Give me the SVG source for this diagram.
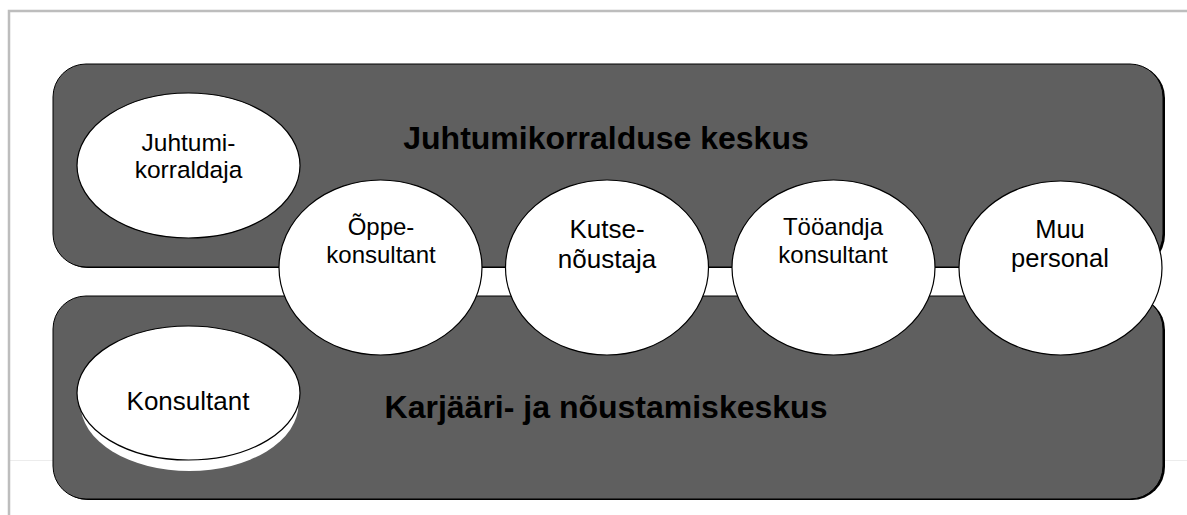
<svg xmlns="http://www.w3.org/2000/svg" width="1187" height="515" viewBox="0 0 1187 515">
<style>
.frame{fill:none;stroke:#bdbdbd;stroke-width:2.5}
.band{fill:#5f5f5f;stroke:#000;stroke-width:1}
.shadow{fill:#000}
.node{fill:#fff;stroke:#000;stroke-width:1.2}
.lbl{font-family:"Liberation Sans",Arial,sans-serif;font-size:24px;fill:#000;text-anchor:middle}
.title{font-family:"Liberation Sans",Arial,sans-serif;font-size:32px;font-weight:bold;fill:#000;text-anchor:middle}
</style>
<rect width="1187" height="515" fill="#fff"/>
<line x1="10" y1="460.5" x2="1187" y2="460.5" stroke="#ececec" stroke-width="1"/>
<path class="frame" d="M9,515 V11 H1187"/>
<g id="juhtumikorralduse-keskus">
<rect class="shadow" x="55" y="65" width="1110" height="203" rx="33"/>
<rect class="band" x="53" y="64" width="1110" height="203" rx="33"/>
<text class="title" x="606" y="149">Juhtumikorralduse keskus</text>
</g>
<g id="karjaari-keskus">
<rect class="shadow" x="55" y="297" width="1110" height="203" rx="33"/>
<rect class="band" x="53" y="296" width="1110" height="203" rx="33"/>
<text class="title" x="606" y="418">Karjääri- ja nõustamiskeskus</text>
</g>
<g id="connectors"></g>
<g id="juhtumikorraldaja">
<ellipse class="node" cx="188.5" cy="165.5" rx="111.5" ry="72.5"/>
<text class="lbl" x="188.5" y="151" style="font-size:24.5px">Juhtumi-</text>
<text class="lbl" x="188.5" y="178" style="font-size:24.5px">korraldaja</text>
</g>
<g id="konsultant">
<ellipse cx="189.5" cy="404" rx="109" ry="67" fill="#fff"/>
<ellipse class="node" cx="188.5" cy="393" rx="111.5" ry="67"/>
<text class="lbl" x="188" y="410" style="font-size:26px">Konsultant</text>
</g>
<g id="oppekonsultant">
<ellipse class="node" cx="380.5" cy="267.5" rx="101.5" ry="87.5"/>
<text class="lbl" x="381" y="235">Õppe-</text>
<text class="lbl" x="381" y="263">konsultant</text>
</g>
<g id="kutsenoustaja">
<ellipse class="node" cx="607" cy="267.5" rx="101.5" ry="87.5"/>
<text class="lbl" x="607" y="238" style="font-size:26px">Kutse-</text>
<text class="lbl" x="607" y="268" style="font-size:26px">nõustaja</text>
</g>
<g id="tooandja-konsultant">
<ellipse class="node" cx="833.5" cy="267.5" rx="101.5" ry="87.5"/>
<text class="lbl" x="833" y="235">Tööandja</text>
<text class="lbl" x="833" y="263">konsultant</text>
</g>
<g id="muu-personal">
<ellipse class="node" cx="1060.5" cy="268" rx="101.5" ry="87"/>
<text class="lbl" x="1060" y="238" style="font-size:25.5px">Muu</text>
<text class="lbl" x="1060" y="267" style="font-size:25.5px">personal</text>
</g>
</svg>
